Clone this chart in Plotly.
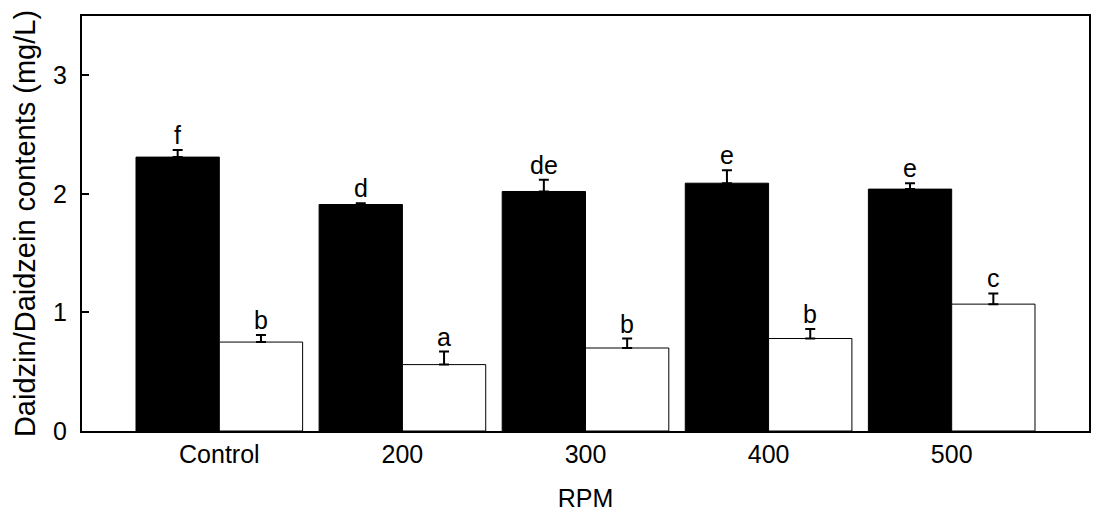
import plotly.graph_objects as go

categories = ["Control", "200", "300", "400", "500"]
daidzin = [2.31, 1.91, 2.02, 2.09, 2.04]
daidzin_err = [0.06, 0.01, 0.10, 0.11, 0.05]
daidzein = [0.75, 0.56, 0.70, 0.78, 1.07]
daidzein_err = [0.06, 0.11, 0.08, 0.08, 0.09]
daidzin_letters = ["f", "d", "de", "e", "e"]
daidzein_letters = ["b", "a", "b", "b", "c"]

xpos = list(range(len(categories)))
bar_w = 0.455

FONT = "Liberation Sans, Arial"

fig = go.Figure()
fig.add_trace(go.Bar(
    x=xpos, y=daidzin, width=bar_w, offset=-bar_w,
    marker=dict(color="black", line=dict(color="black", width=1)),
    error_y=dict(type="data", array=daidzin_err, arrayminus=[0]*5, symmetric=False,
                 color="black", thickness=2, width=5),
    name="Daidzin", showlegend=False))
fig.add_trace(go.Bar(
    x=xpos, y=daidzein, width=bar_w, offset=0,
    marker=dict(color="white", line=dict(color="black", width=1)),
    error_y=dict(type="data", array=daidzein_err, arrayminus=[0]*5, symmetric=False,
                 color="black", thickness=2, width=5),
    name="Daidzein", showlegend=False))

for i in xpos:
    fig.add_annotation(x=i - bar_w/2, y=daidzin[i] + daidzin_err[i], text=daidzin_letters[i],
                       showarrow=False, yanchor="bottom", yshift=-1,
                       font=dict(family=FONT, size=25, color="black"))
    fig.add_annotation(x=i + bar_w/2, y=daidzein[i] + daidzein_err[i], text=daidzein_letters[i],
                       showarrow=False, yanchor="bottom", yshift=-1,
                       font=dict(family=FONT, size=25, color="black"))

fig.update_layout(
    width=1102, height=521,
    margin=dict(l=82, r=11, t=16, b=90),
    plot_bgcolor="white", paper_bgcolor="white",
    font=dict(family=FONT, size=26, color="black"),
    barmode="overlay",
    xaxis=dict(range=[-0.75, 4.75], tickvals=xpos, ticktext=categories, ticks="",
               showline=True, linecolor="black", linewidth=2, mirror=True,
               showgrid=False, zeroline=False,
               title=dict(text="RPM", font=dict(size=25), standoff=22),
               tickfont=dict(size=25)),
    yaxis=dict(range=[0, 3.5], tickvals=[0, 1, 2, 3], ticks="inside", ticklen=7,
               tickwidth=1.5, tickcolor="black",
               showline=True, linecolor="black", linewidth=2, mirror=True,
               showgrid=False, zeroline=False,
               ticklabelstandoff=8,
               title=dict(text="Daidzin/Daidzein contents (mg/L)", font=dict(size=29), standoff=9),
               tickfont=dict(size=25)),
)

fig.write_html("out.html")
